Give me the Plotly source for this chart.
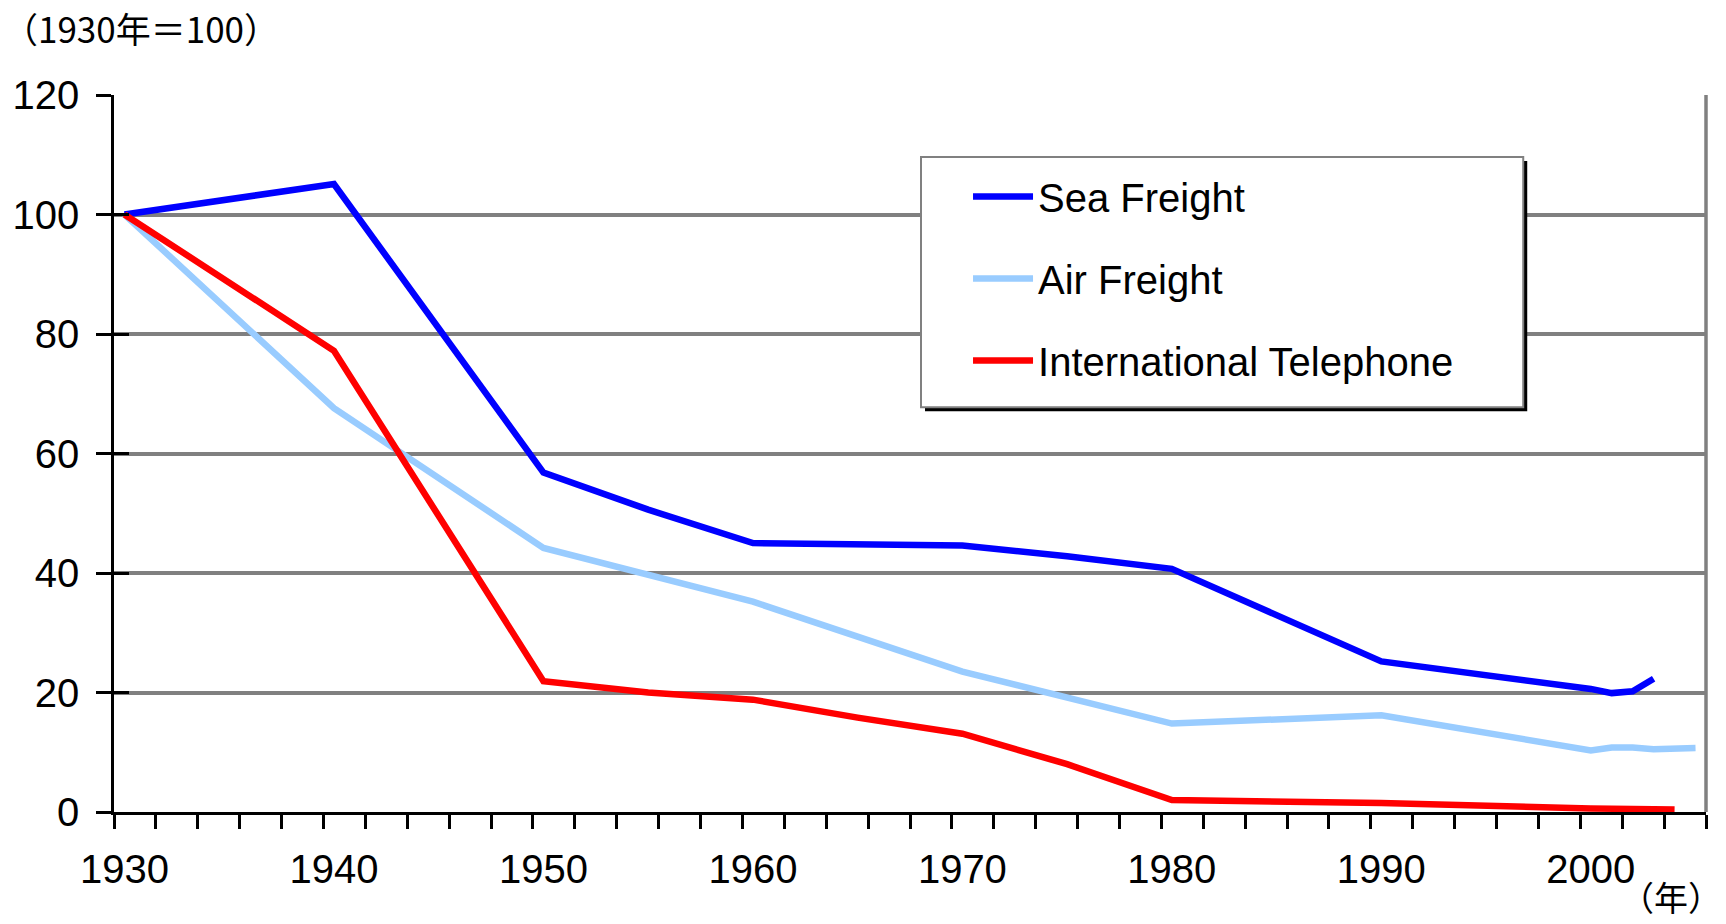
import plotly.graph_objects as go

# Index values (1930 = 100)
sea_years = [1930, 1940, 1950, 1955, 1960, 1970, 1975, 1980, 1990, 1996, 2000, 2001, 2002, 2003]
sea_freight = [100, 105.1, 56.8, 50.6, 45.0, 44.6, 42.8, 40.7, 25.2, 22.5, 20.6, 19.9, 20.2, 22.3]

air_years = [1930, 1940, 1950, 1960, 1970, 1980, 1990, 2000, 2001, 2002, 2003, 2005]
air_freight = [100, 67.6, 44.2, 35.2, 23.5, 14.8, 16.2, 10.3, 10.8, 10.8, 10.5, 10.7]

tel_years = [1930, 1940, 1950, 1955, 1960, 1965, 1970, 1975, 1980, 1990, 2000, 2004]
telephone = [100, 77.2, 21.9, 20.0, 18.8, 15.8, 13.1, 8.0, 2.0, 1.5, 0.6, 0.4]

y_ticks = [0, 20, 40, 60, 80, 100, 120]
x_label_years = [1930, 1940, 1950, 1960, 1970, 1980, 1990, 2000]

W, H = 1726, 924
L, R, T, B = 114.3, 1705.7, 95.0, 811.7
PW, PH = R - L, B - T


def px_x(v):
    return (v - L) / PW


def px_y(v):
    return (B - v) / PH


FONT = "Liberation Sans, Arial, sans-serif"
CJK = "Noto Sans CJK JP, sans-serif"
LW = 6.5

fig = go.Figure()
fig.add_trace(go.Scatter(x=sea_years, y=sea_freight, name="Sea Freight", mode="lines",
                         line=dict(color="#0000FF", width=LW), legendgroup="a"))
fig.add_trace(go.Scatter(x=air_years, y=air_freight, name="Air Freight", mode="lines",
                         line=dict(color="#99CCFF", width=LW), legendgroup="b"))
fig.add_trace(go.Scatter(x=tel_years, y=telephone, name="International Telephone", mode="lines",
                         line=dict(color="#FF0000", width=LW), legendgroup="c"))
# carrier for the inner half of the y tick marks
fig.add_trace(go.Scatter(x=[], y=[], yaxis="y2", showlegend=False, hoverinfo="skip"))

shapes = [
    # right border of the plot area
    dict(type="line", xref="paper", yref="paper", x0=1, x1=1, y0=0, y1=1,
         line=dict(color="#808080", width=3.5), layer="below"),
    # legend shadow and box
    dict(type="rect", xref="paper", yref="paper",
         x0=px_x(925), x1=px_x(1527), y0=px_y(411), y1=px_y(161),
         fillcolor="black", line=dict(width=0), layer="above"),
    dict(type="rect", xref="paper", yref="paper",
         x0=px_x(921), x1=px_x(1523), y0=px_y(407), y1=px_y(157),
         fillcolor="white", line=dict(color="#808080", width=2), layer="above"),
]

annotations = [
    dict(text="（1930年＝100）", xref="paper", yref="paper", x=px_x(1), y=px_y(28),
         xanchor="left", yanchor="middle", showarrow=False,
         font=dict(family=CJK, size=35, color="black")),
    dict(text="（年）", xref="paper", yref="paper", x=px_x(1724), y=px_y(896),
         xanchor="right", yanchor="middle", showarrow=False,
         font=dict(family=CJK, size=34, color="black")),
]

fig.update_layout(
    width=W, height=H, autosize=False,
    margin=dict(l=L, r=W - R, t=T, b=H - B, pad=0),
    paper_bgcolor="white", plot_bgcolor="white",
    font=dict(family=FONT, color="black"),
    showlegend=True,
    legend=dict(x=px_x(968), y=px_y(164), xanchor="left", yanchor="top",
                bgcolor="rgba(0,0,0,0)", borderwidth=0,
                font=dict(family=FONT, size=40, color="black"),
                itemwidth=60, tracegroupgap=27, traceorder="grouped"),
    xaxis=dict(range=[1929.5, 2005.5], tickmode="array", tickvals=x_label_years,
               ticks="", tickfont=dict(family=FONT, size=40), ticklabelstandoff=20,
               showgrid=False, zeroline=False,
               showline=True, linecolor="black", linewidth=2.5,
               minor=dict(tickmode="linear", tick0=1929.5, dtick=2, ticks="outside",
                          ticklen=14, tickwidth=2.5, tickcolor="black", showgrid=False)),
    yaxis=dict(range=[0, 120], tickmode="array", tickvals=y_ticks,
               ticks="outside", ticklen=15, tickwidth=2.5, tickcolor="black",
               tickfont=dict(family=FONT, size=40), ticklabelstandoff=9,
               showgrid=True, gridcolor="#808080", gridwidth=3.5, zeroline=False,
               showline=True, linecolor="black", linewidth=2.5),
    yaxis2=dict(range=[0, 120], overlaying="y", side="left", tickmode="array", tickvals=y_ticks,
                ticks="inside", ticklen=15, tickwidth=2.5, tickcolor="black",
                showticklabels=False, showgrid=False, zeroline=False, showline=False),
    shapes=shapes,
    annotations=annotations,
)

fig.write_html("out.html", post_script="document.body.style.margin='0';")
